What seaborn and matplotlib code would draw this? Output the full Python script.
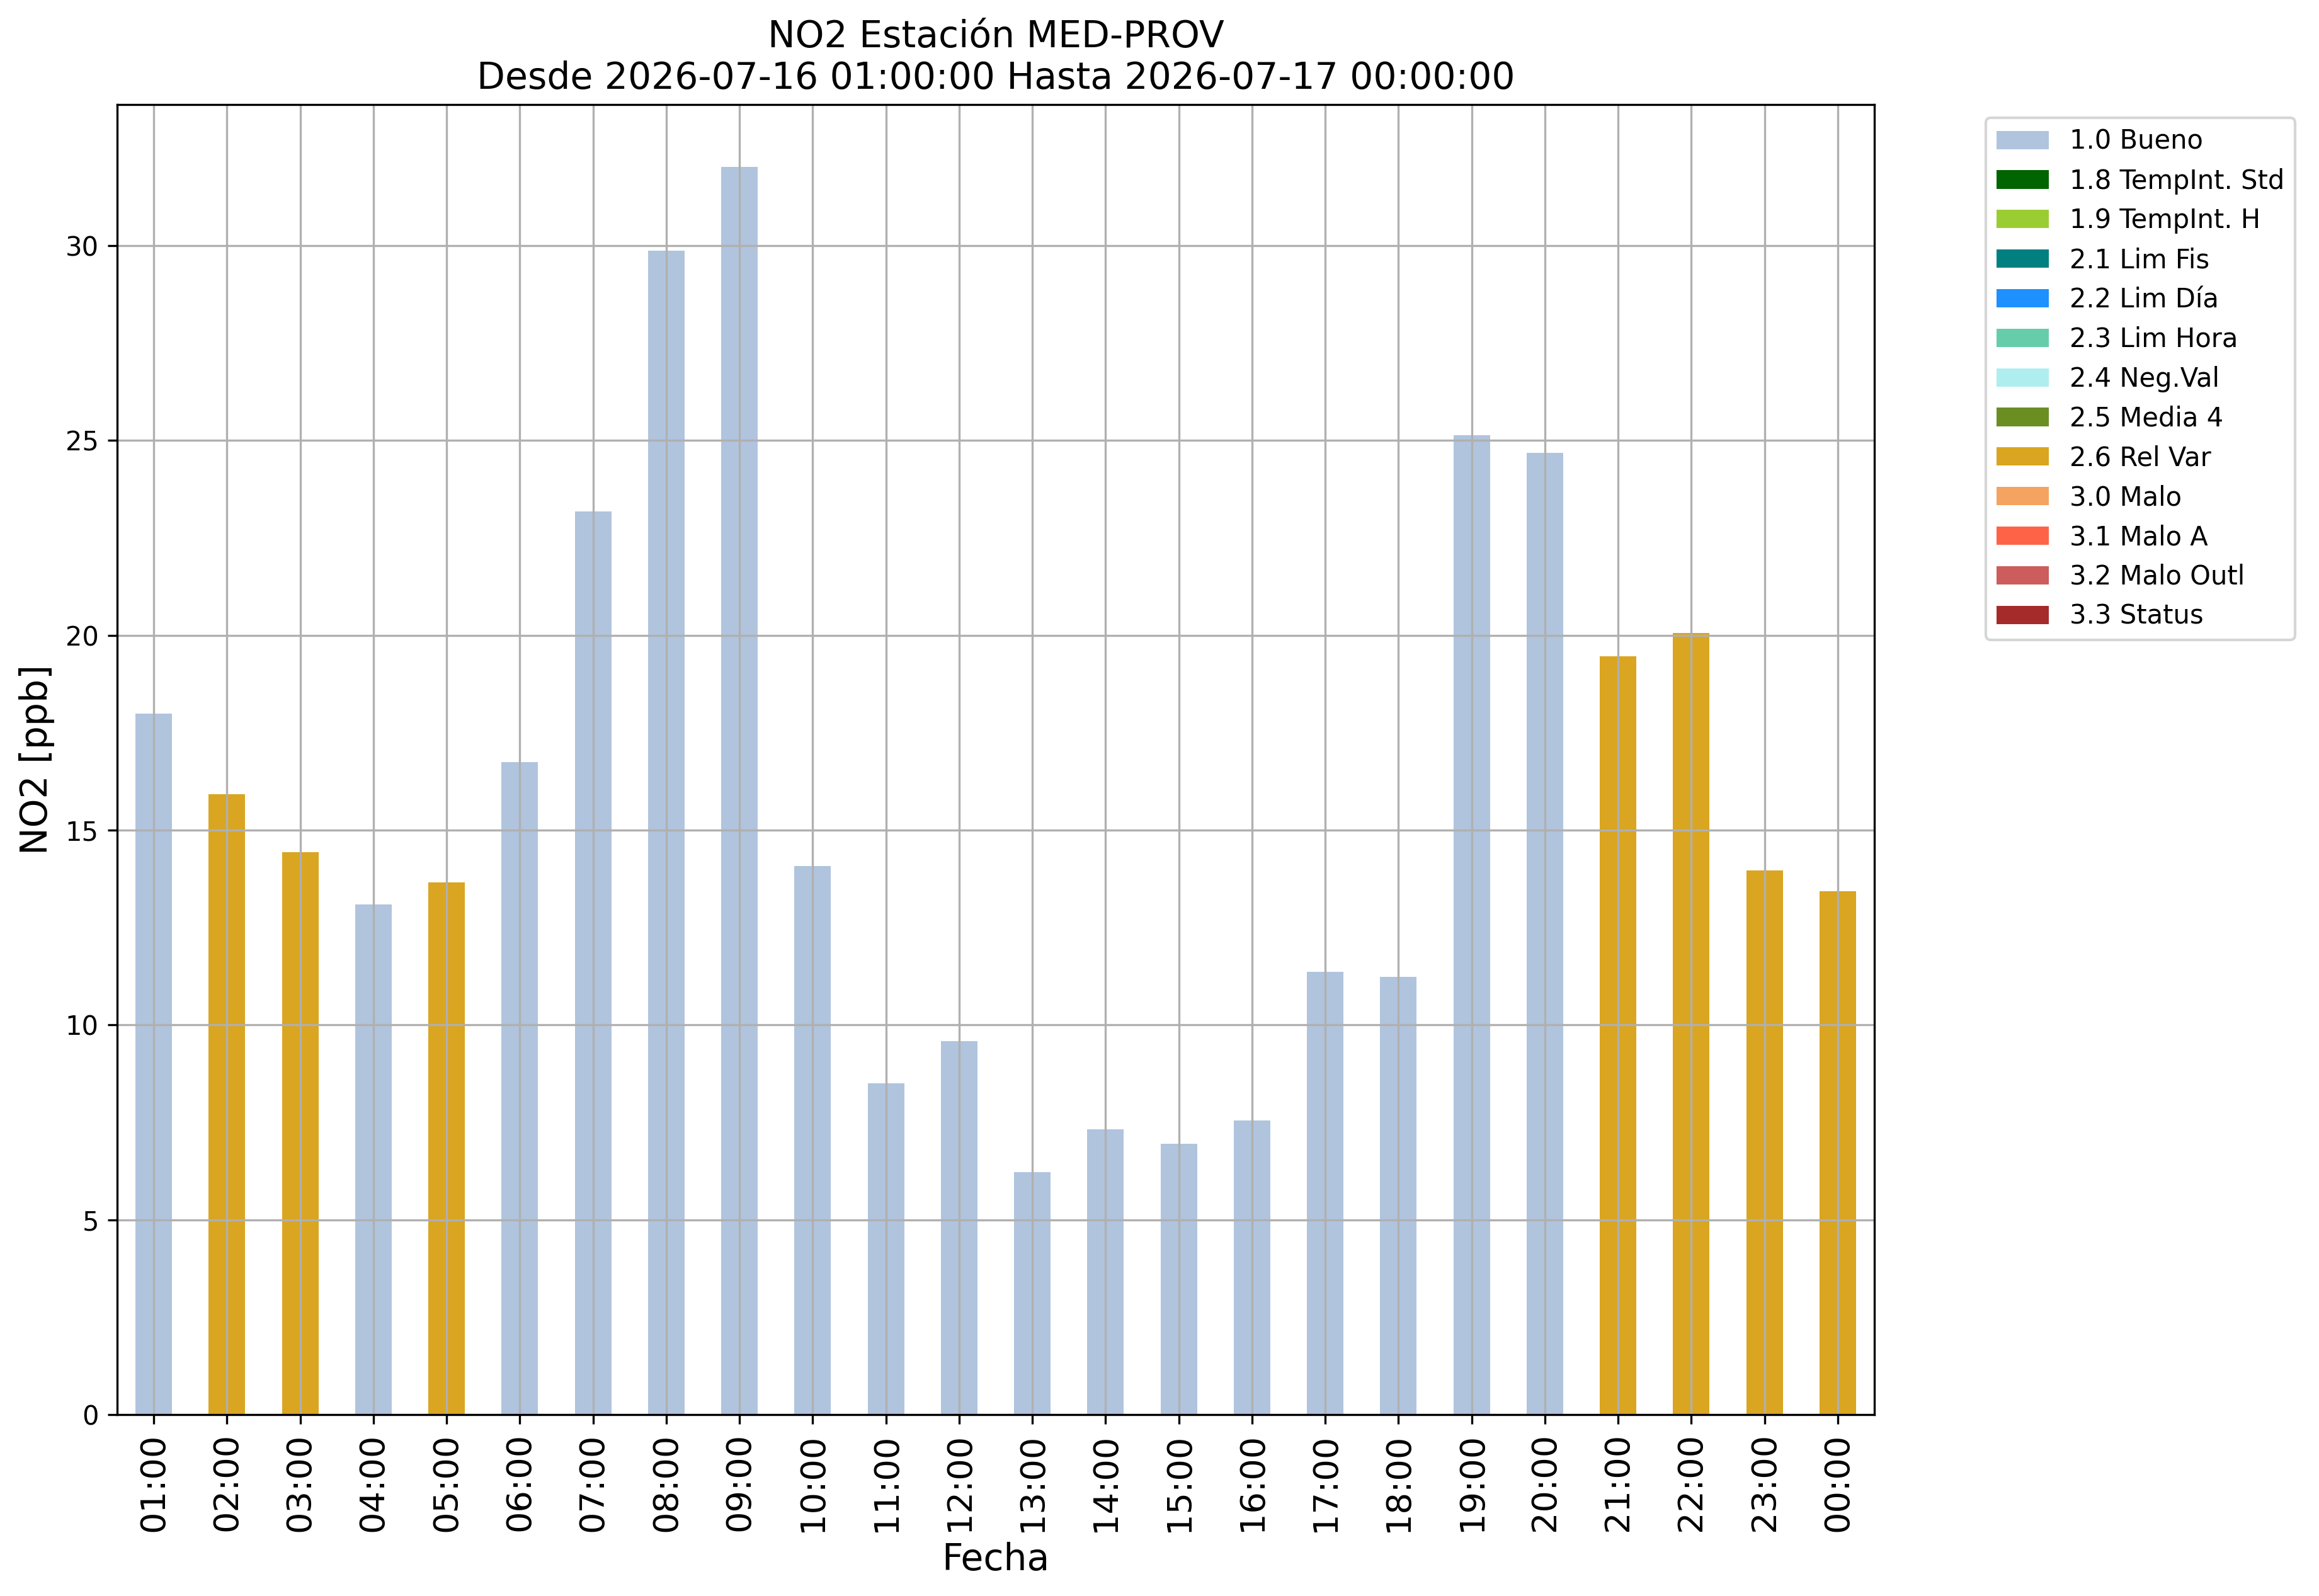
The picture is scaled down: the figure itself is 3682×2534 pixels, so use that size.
import matplotlib
matplotlib.use("Agg")
import matplotlib.pyplot as plt
from matplotlib.patches import Patch
import seaborn as sns
import pandas as pd

hours = ["01:00", "02:00", "03:00", "04:00", "05:00", "06:00", "07:00", "08:00",
         "09:00", "10:00", "11:00", "12:00", "13:00", "14:00", "15:00", "16:00",
         "17:00", "18:00", "19:00", "20:00", "21:00", "22:00", "23:00", "00:00"]
no2_values = [17.99, 15.92, 14.43, 13.09, 13.66, 16.74, 23.18, 29.87,
              32.02, 14.08, 8.50, 9.58, 6.22, 7.32, 6.95, 7.55,
              11.36, 11.23, 25.13, 24.68, 19.46, 20.06, 13.96, 13.43]
flags = ["1.0 Bueno", "2.6 Rel Var", "2.6 Rel Var", "1.0 Bueno", "2.6 Rel Var", "1.0 Bueno",
         "1.0 Bueno", "1.0 Bueno", "1.0 Bueno", "1.0 Bueno", "1.0 Bueno", "1.0 Bueno",
         "1.0 Bueno", "1.0 Bueno", "1.0 Bueno", "1.0 Bueno", "1.0 Bueno", "1.0 Bueno",
         "1.0 Bueno", "1.0 Bueno", "2.6 Rel Var", "2.6 Rel Var", "2.6 Rel Var", "2.6 Rel Var"]

flag_labels = ["1.0 Bueno", "1.8 TempInt. Std", "1.9 TempInt. H", "2.1 Lim Fis",
               "2.2 Lim Día", "2.3 Lim Hora", "2.4 Neg.Val", "2.5 Media 4",
               "2.6 Rel Var", "3.0 Malo", "3.1 Malo A", "3.2 Malo Outl", "3.3 Status"]
flag_colors = ["lightsteelblue", "darkgreen", "yellowgreen", "teal",
               "dodgerblue", "mediumaquamarine", "paleturquoise", "olivedrab",
               "goldenrod", "sandybrown", "tomato", "indianred", "brown"]

title_lines = ["NO2 Estación MED-PROV", "Desde 2026-07-16 01:00:00 Hasta 2026-07-17 00:00:00"]

df = pd.DataFrame({"Fecha": hours, "NO2": no2_values, "flag": flags})
palette = dict(zip(flag_labels, flag_colors))

W, H, DPI = 3682, 2534, 300
fig = plt.figure(figsize=(W / DPI, H / DPI), dpi=DPI)
ax = fig.add_axes([186 / W, 1 - 2246 / H, (2976 - 186) / W, (2246 - 166) / H])

sns.barplot(data=df, x="Fecha", y="NO2", hue="flag", order=hours,
            hue_order=flag_labels, palette=palette, dodge=False, width=0.5,
            saturation=1, errorbar=None, legend=False, ax=ax)

ax.set_xlim(-0.5, len(hours) - 0.5)
ax.set_ylim(0, max(no2_values) * 1.05)
ax.grid(True, color="#b0b0b0", linewidth=0.8)
ax.set_axisbelow("line")

ax.set_xlabel("Fecha", fontsize=14)
ax.set_ylabel("NO2 [ppb]", fontsize=14)
ax.set_title("\n".join(title_lines), fontsize=14)
ax.tick_params(axis="x", labelsize=13, labelrotation=90)
ax.tick_params(axis="y", labelsize=10)
for s in ax.spines.values():
    s.set_linewidth(0.8)
    s.set_color("black")

handles = [Patch(facecolor=c, edgecolor="none", label=l) for l, c in zip(flag_labels, flag_colors)]
fig.legend(handles=handles, loc="upper left",
           bbox_to_anchor=(3153 / W, 1 - 187 / H), bbox_transform=fig.transFigure,
           borderaxespad=0, fontsize=10)

fig.savefig("out.png", dpi=DPI)
